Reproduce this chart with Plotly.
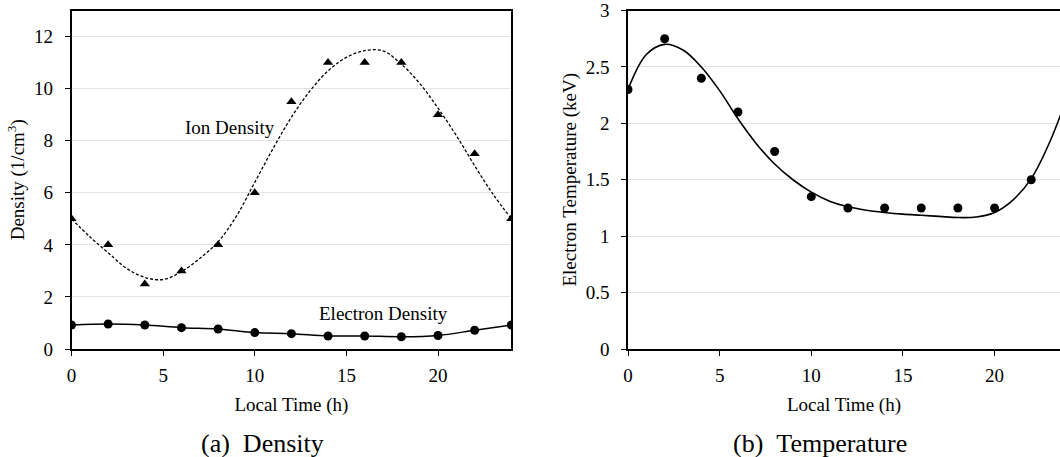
import plotly.graph_objects as go

# ---------------- data ----------------
hours = [0, 2, 4, 6, 8, 10, 12, 14, 16, 18, 20, 22, 24]
ion_density = [5, 4, 2.5, 3, 4, 6, 9.5, 11, 11, 11, 9, 7.5, 5]
electron_density = [0.92, 0.96, 0.92, 0.82, 0.77, 0.63, 0.59, 0.5, 0.5, 0.47, 0.52, 0.72, 0.92]

fit_hours = list(range(25))
ion_fit = [5.0, 4.31, 3.7, 3.1, 2.75, 2.67, 2.97, 3.48, 4.12, 5.1, 6.4, 7.7, 8.9,
           9.9, 10.68, 11.2, 11.46, 11.45, 10.94, 10.2, 9.25, 8.2, 7.04, 5.95, 5.0]

temp_hours = [0, 2, 4, 6, 8, 10, 12, 14, 16, 18, 20, 22]
electron_temp = [2.3, 2.75, 2.4, 2.1, 1.75, 1.35, 1.25, 1.25, 1.25, 1.25, 1.25, 1.5]
temp_fit = [2.3, 2.61, 2.70, 2.65, 2.50, 2.29, 2.04, 1.82, 1.64, 1.50, 1.39, 1.31, 1.26,
            1.23, 1.21, 1.195, 1.185, 1.175, 1.165, 1.17, 1.21, 1.32, 1.51, 1.83, 2.25]

x_ticks = [0, 5, 10, 15, 20]
density_ticks = [0, 2, 4, 6, 8, 10, 12]
temp_ticks = [0, 0.5, 1, 1.5, 2, 2.5, 3]

# ---------------- figure ----------------
W, H = 1060, 457
FONT = "Liberation Serif, Times New Roman, serif"
FS = 19


def px_x(page_x):
    return page_x / W


def px_y(page_y):
    return (H - page_y) / H


fig = go.Figure()

# Left panel: density
fig.add_trace(go.Scatter(x=fit_hours, y=ion_fit, mode="lines",
                         line=dict(color="black", width=1.3, dash="3px,2px", shape="spline"),
                         xaxis="x", yaxis="y", showlegend=False, hoverinfo="skip"))
fig.add_trace(go.Scatter(x=hours, y=ion_density, mode="markers",
                         marker=dict(symbol="triangle-up", size=9, color="black"),
                         xaxis="x", yaxis="y", name="Ion Density", showlegend=False))
fig.add_trace(go.Scatter(x=hours, y=electron_density, mode="lines+markers",
                         line=dict(color="black", width=1.5, shape="spline"),
                         marker=dict(symbol="circle", size=9, color="black"),
                         xaxis="x", yaxis="y", name="Electron Density", showlegend=False))

# Right panel: temperature
fig.add_trace(go.Scatter(x=fit_hours, y=temp_fit, mode="lines",
                         line=dict(color="black", width=1.6, shape="spline"),
                         xaxis="x2", yaxis="y2", showlegend=False, hoverinfo="skip"))
fig.add_trace(go.Scatter(x=temp_hours, y=electron_temp, mode="markers",
                         marker=dict(symbol="circle", size=9, color="black"),
                         xaxis="x2", yaxis="y2", name="Electron Temperature", showlegend=False))

y_dom = [px_y(349), px_y(10.5)]
axis_common = dict(showline=True, linecolor="black", linewidth=1.5, ticks="outside", ticklen=5,
                   tickcolor="black", tickfont=dict(family=FONT, size=FS, color="black"),
                   zeroline=False, automargin=False, ticklabeloverflow="allow")

fig.update_layout(
    width=W, height=H,
    margin=dict(l=0, r=0, t=0, b=0, autoexpand=False),
    paper_bgcolor="white", plot_bgcolor="white",
    font=dict(family=FONT, size=FS, color="black"),
    xaxis=dict(domain=[px_x(71.5), px_x(511.3)], range=[0, 24], tickvals=x_ticks, showgrid=False,
               mirror=True, anchor="y", ticklabelstandoff=3,
               title=dict(text="Local Time (h)", font=dict(family=FONT, size=FS), standoff=13),
               **axis_common),
    yaxis=dict(domain=y_dom, range=[0, 13], tickvals=density_ticks, showgrid=True,
               gridcolor="#e3e3e3", gridwidth=1, mirror=True, anchor="x", ticklabelstandoff=8,
               title=dict(text="Density (1/cm<sup>3</sup>)", font=dict(family=FONT, size=FS), standoff=4),
               **axis_common),
    xaxis2=dict(domain=[px_x(628), 1.0], range=[0, 23.57], tickvals=x_ticks, showgrid=False,
                mirror=True, anchor="y2", ticklabelstandoff=3,
                title=dict(text="Local Time (h)", font=dict(family=FONT, size=FS), standoff=13),
                **axis_common),
    yaxis2=dict(domain=y_dom, range=[0, 3], tickvals=temp_ticks, showgrid=True,
                gridcolor="#e3e3e3", gridwidth=1, mirror=False, anchor="x2", ticklabelstandoff=8,
                title=dict(text="Electron Temperature (keV)", font=dict(family=FONT, size=FS), standoff=4),
                **axis_common),
)

# In-plot labels
fig.add_annotation(x=8.63, y=8.5, xref="x", yref="y", text="Ion Density", showarrow=False,
                   font=dict(family=FONT, size=FS, color="black"))
fig.add_annotation(x=17.03, y=1.38, xref="x", yref="y", text="Electron Density", showarrow=False,
                   font=dict(family=FONT, size=FS, color="black"))

# Sub-captions
fig.add_annotation(x=px_x(262.5), y=px_y(443), xref="paper", yref="paper", text="(a)\u2002Density",
                   showarrow=False, xanchor="center", yanchor="middle",
                   font=dict(family=FONT, size=26, color="black"))
fig.add_annotation(x=px_x(819.7), y=px_y(443), xref="paper", yref="paper", text="(b)\u2002Temperature",
                   showarrow=False, xanchor="center", yanchor="middle",
                   font=dict(family=FONT, size=26, color="black"))

# remove the default 8px page margin so the figure sits at the window's top-left corner
fig.write_html("out.html", config={"displayModeBar": False},
               post_script="document.body.style.margin='0';")
